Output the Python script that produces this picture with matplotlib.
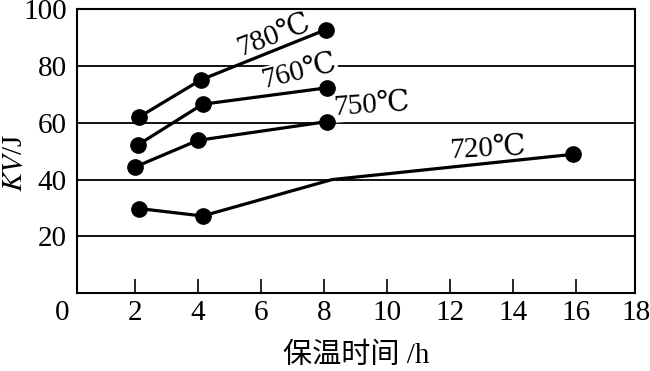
import matplotlib
matplotlib.use("Agg")
import matplotlib.pyplot as plt
import matplotlib.transforms as mtransforms

# impact energy KV (J) vs holding time (h) at four temperatures
t_780 = [2.15, 4.1, 8.05]
kv_780 = [62.1, 75.1, 92.7]
t_760 = [2.1, 4.15, 8.1]
kv_760 = [52.2, 66.5, 72.3]
t_750 = [2.0, 4.0, 8.1]
kv_750 = [44.4, 53.8, 60.4]
t_720 = [2.15, 4.15, 8.25, 15.9]
kv_720 = [29.8, 27.2, 40.0, 48.9]
marks_720 = [0, 1, 3]  # no dot on the kink at 8 h

labels = ["780℃", "760℃", "750℃", "720℃"]
xticks = [0, 2, 4, 6, 8, 10, 12, 14, 16, 18]
yticks = [20, 40, 60, 80, 100]

plt.rcParams["font.family"] = ["Liberation Serif", "DejaVu Serif", "Noto Sans CJK SC"]
plt.rcParams["mathtext.fontset"] = "stix"
FS = 21

fig = plt.figure(figsize=(6.5, 3.71), dpi=100)
ax = fig.add_axes([0.118, 0.2094, 0.859, 0.7663])

for y in yticks[:-1]:
    ax.axhline(y, color="black", lw=1.3, zorder=1)

style = dict(color="black", lw=2.3, marker="o", markersize=11, zorder=3)
ax.plot(t_780, kv_780, **style)
ax.plot(t_760, kv_760, **style)
ax.plot(t_750, kv_750, **style)
ax.plot(t_720, kv_720, markevery=marks_720, **style)

txt = dict(fontsize=FS, ha="center", va="center", zorder=2,
           bbox=dict(facecolor="white", edgecolor="none", pad=1))
ax.text(6.4, 90.3, labels[0], rotation=21, **txt)
ax.text(7.2, 77.5, labels[1], rotation=14, **txt)
ax.text(9.5, 66.0, labels[2], rotation=4, **txt)
ax.text(13.2, 50.5, labels[3], rotation=3, **txt)

# the frame sits slightly inside 0 and 18, so those two labels are set by hand
ax.set_xlim(0.16, 17.86)
ax.set_ylim(0, 100)
inner = xticks[1:-1]
ax.set_xticks(inner)
ax.set_xticklabels([str(v) for v in inner])
trans = mtransforms.blended_transform_factory(ax.transData, ax.transAxes)
ax.text(xticks[0] - 0.3, -0.025, str(xticks[0]), transform=trans,
        ha="center", va="top", fontsize=FS, clip_on=False)
ax.text(xticks[-1] - 0.1, -0.025, str(xticks[-1]), transform=trans,
        ha="center", va="top", fontsize=FS, clip_on=False)
ax.set_yticks(yticks)
ax.tick_params(axis="x", direction="in", length=10, width=1.2, labelsize=FS, pad=5)
ax.tick_params(axis="y", length=0, labelsize=FS, pad=7)
for s in ax.spines.values():
    s.set_linewidth(1.5)

ax.set_xlabel("保温时间 /h", fontsize=FS, labelpad=12)
ax.set_ylabel(r"$KV$/J", fontsize=FS)
ax.yaxis.set_label_coords(-0.088, 0.46)

fig.savefig("out.png", dpi=100)
